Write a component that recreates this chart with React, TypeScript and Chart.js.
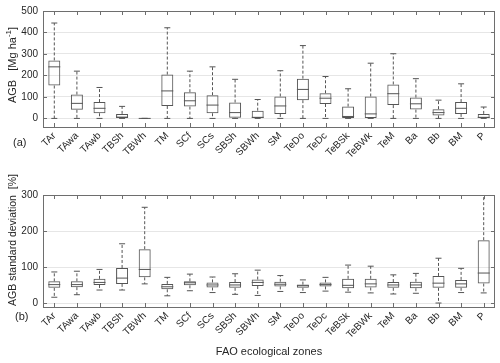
import React, { useEffect, useRef } from "react";
import { Chart, registerables } from "chart.js";
Chart.register(...registerables);

const zones = ["TAr", "TAwa", "TAwb", "TBSh", "TBWh", "TM", "SCf", "SCs", "SBSh", "SBWh", "SM", "TeDo", "TeDc", "TeBSk", "TeBWk", "TeM", "Ba", "Bb", "BM", "P"];

// Panel (a): AGB [Mg ha-1]
const agbMin = [0, 0, 0, 0, 0, 0, 0, 0, 0, 0, 0, 0, 0, 0, 0, 0, 0, 0, 0, 0];
const agbQ1 = [153, 40, 24, 0, 0, 58, 55, 24, 3, 2, 21, 85, 67, 2, 0, 62, 41, 14, 21, 0];
const agbMed = [240, 70, 47, 6, 0, 128, 82, 62, 27, 5, 58, 135, 94, 9, 21, 115, 68, 27, 47, 5];
const agbQ3 = [270, 111, 76, 21, 0, 204, 122, 108, 74, 36, 102, 185, 117, 55, 102, 158, 97, 43, 76, 21];
const agbMax = [444, 220, 144, 56, 0, 422, 220, 240, 182, 88, 222, 339, 195, 138, 257, 301, 185, 85, 161, 53];
const agbTicks = [0, 100, 200, 300, 400, 500];

// Panel (b): AGB standard deviation [%]
const sdMin = [17, 24, 37, 37, 54, 21, 35, 30, 25, 22, 33, 30, 34, 31, 29, 26, 28, 1, 30, 29];
const sdQ1 = [43, 45, 51, 54, 72, 39, 50, 44, 43, 48, 47, 43, 47, 42, 44, 43, 42, 43, 43, 55];
const sdMed = [52, 52, 58, 70, 94, 46, 57, 51, 51, 58, 53, 49, 52, 50, 54, 51, 51, 56, 54, 84];
const sdQ3 = [61, 61, 68, 98, 150, 54, 61, 58, 59, 66, 60, 52, 58, 68, 68, 59, 60, 76, 65, 175];
const sdMax = [87, 89, 94, 165, 266, 72, 81, 73, 82, 92, 77, 65, 72, 106, 103, 79, 83, 125, 97, 330];
const sdTicks = [0, 100, 200, 300];

const FONT = '"Liberation Sans", Arial, Helvetica, sans-serif';
const TEXT = "#262626";
const LINE = "#555555";

type TitlePart = { text: string; sup?: boolean };

type PanelOpts = {
  mins: number[];
  q1: number[];
  med: number[];
  q3: number[];
  maxs: number[];
  yMin: number;
  yMax: number;
  yTicks: number[];
  yTitle: TitlePart[];
  yTitleSize: number;
  yTitleCenter: number;
  xTitle?: string;
  padTop: number;
  xHeight: number;
  tag: string;
  tagX: number;
  tagY: number;
};

function makeConfig(o: PanelOpts): any {
  const boxPlugin = {
    id: "boxExtras",
    afterDatasetsDraw(chart: any) {
      const ctx = chart.ctx;
      const area = chart.chartArea;
      const y = chart.scales.y;
      const meta = chart.getDatasetMeta(0);
      ctx.save();
      ctx.beginPath();
      ctx.rect(area.left, area.top, area.right - area.left, area.bottom - area.top);
      ctx.clip();
      ctx.strokeStyle = LINE;
      ctx.lineWidth = 1;
      meta.data.forEach((bar: any, i: number) => {
        const cx = bar.x;
        const hw = bar.width / 2;
        const cap = 3;
        const pMin = y.getPixelForValue(o.mins[i]);
        const pQ1 = y.getPixelForValue(o.q1[i]);
        const pMed = y.getPixelForValue(o.med[i]);
        const pQ3 = y.getPixelForValue(o.q3[i]);
        const pMax = y.getPixelForValue(o.maxs[i]);
        ctx.setLineDash([]);
        ctx.beginPath();
        ctx.moveTo(cx - hw, pMed);
        ctx.lineTo(cx + hw, pMed);
        ctx.stroke();
        ctx.setLineDash([3, 2]);
        ctx.beginPath();
        ctx.moveTo(cx, pQ3);
        ctx.lineTo(cx, pMax);
        ctx.moveTo(cx, pQ1);
        ctx.lineTo(cx, pMin);
        ctx.stroke();
        ctx.setLineDash([]);
        ctx.beginPath();
        ctx.moveTo(cx - cap, pMax);
        ctx.lineTo(cx + cap, pMax);
        ctx.moveTo(cx - cap, pMin);
        ctx.lineTo(cx + cap, pMin);
        ctx.stroke();
      });
      ctx.restore();

      // frame and inward ticks
      ctx.save();
      ctx.strokeStyle = "#6e6e6e";
      ctx.lineWidth = 1;
      ctx.strokeRect(area.left + 0.5, area.top + 0.5, area.right - area.left - 1, area.bottom - area.top);
      const x = chart.scales.x;
      const tl = 4;
      ctx.beginPath();
      zones.forEach((_, i) => {
        const px = Math.round(x.getPixelForValue(i)) + 0.5;
        ctx.moveTo(px, area.bottom);
        ctx.lineTo(px, area.bottom - tl);
        ctx.moveTo(px, area.top);
        ctx.lineTo(px, area.top + tl);
      });
      o.yTicks.forEach((v) => {
        const py = Math.round(y.getPixelForValue(v)) + 0.5;
        ctx.moveTo(area.left, py);
        ctx.lineTo(area.left + tl, py);
        ctx.moveTo(area.right, py);
        ctx.lineTo(area.right - tl, py);
      });
      ctx.stroke();

      // panel tag
      ctx.fillStyle = TEXT;
      ctx.font = `11px ${FONT}`;
      ctx.textAlign = "left";
      ctx.textBaseline = "middle";
      ctx.fillText(o.tag, o.tagX, o.tagY);

      // rotated y title with optional superscript
      const base = `${o.yTitleSize}px ${FONT}`;
      const supFont = `${Math.round(o.yTitleSize * 0.72)}px ${FONT}`;
      let total = 0;
      const widths = o.yTitle.map((p) => {
        ctx.font = p.sup ? supFont : base;
        const w = ctx.measureText(p.text).width;
        total += w;
        return w;
      });
      ctx.translate(13, o.yTitleCenter);
      ctx.rotate(-Math.PI / 2);
      ctx.textAlign = "left";
      ctx.textBaseline = "middle";
      let cur = -total / 2;
      o.yTitle.forEach((p, i) => {
        ctx.font = p.sup ? supFont : base;
        ctx.fillText(p.text, cur, p.sup ? -o.yTitleSize * 0.38 : 0);
        cur += widths[i];
      });
      ctx.restore();
    },
  };

  return {
    type: "bar",
    data: {
      labels: zones,
      datasets: [
        {
          data: zones.map((_, i) => [o.q1[i], o.q3[i]]),
          backgroundColor: "rgba(255,255,255,0)",
          borderColor: LINE,
          borderWidth: 1,
          borderSkipped: false,
          barPercentage: 0.53,
          categoryPercentage: 1,
        },
      ],
    },
    options: {
      animation: false,
      responsive: true,
      maintainAspectRatio: false,
      layout: { padding: { top: o.padTop, right: 5, left: 0, bottom: 0 } },
      plugins: { legend: { display: false }, tooltip: { enabled: false }, title: { display: false } },
      scales: {
        x: {
          type: "category",
          offset: true,
          grid: { display: false, drawTicks: false },
          border: { display: false },
          ticks: {
            autoSkip: false,
            maxRotation: 45,
            minRotation: 45,
            padding: 3,
            color: TEXT,
            font: { family: FONT, size: 10 },
          },
          title: o.xTitle
            ? { display: true, text: o.xTitle, color: TEXT, font: { family: FONT, size: 11 }, padding: { top: 4, bottom: 4 } }
            : { display: false },
          afterFit: (s: any) => {
            s.height = o.xHeight;
          },
        },
        y: {
          type: "linear",
          min: o.yMin,
          max: o.yMax,
          afterBuildTicks: (s: any) => {
            s.ticks = o.yTicks.map((v) => ({ value: v }));
          },
          grid: { color: "#e6e6e6", drawTicks: false, lineWidth: 1 },
          border: { display: false },
          ticks: { padding: 5, color: TEXT, font: { family: FONT, size: 10 } },
          title: { display: false },
          afterFit: (s: any) => {
            s.width = 43;
          },
        },
      },
    },
    plugins: [boxPlugin],
  };
}

export default function App() {
  const topRef = useRef<HTMLCanvasElement | null>(null);
  const botRef = useRef<HTMLCanvasElement | null>(null);

  useEffect(() => {
    document.body.style.margin = "0";
    const c1 = new Chart(
      topRef.current as HTMLCanvasElement,
      makeConfig({
        mins: agbMin,
        q1: agbQ1,
        med: agbMed,
        q3: agbQ3,
        maxs: agbMax,
        yMin: -40,
        yMax: 500,
        yTicks: agbTicks,
        yTitle: [{ text: "AGB   [Mg ha" }, { text: "-1", sup: true }, { text: "]" }],
        yTitleSize: 11,
        yTitleCenter: 65,
        padTop: 8,
        xHeight: 43,
        tag: "(a)",
        tagX: 13,
        tagY: 143,
      })
    );
    const c2 = new Chart(
      botRef.current as HTMLCanvasElement,
      makeConfig({
        mins: sdMin,
        q1: sdQ1,
        med: sdMed,
        q3: sdQ3,
        maxs: sdMax,
        yMin: -10,
        yMax: 300,
        yTicks: sdTicks,
        yTitle: [{ text: "AGB standard deviation  [%]" }],
        yTitleSize: 10.5,
        yTitleCenter: 70,
        xTitle: "FAO ecological zones",
        padTop: 25,
        xHeight: 56,
        tag: "(b)",
        tagX: 15,
        tagY: 147,
      })
    );
    return () => {
      c1.destroy();
      c2.destroy();
    };
  }, []);

  return (
    <div style={{ position: "relative", width: 500, height: 363, background: "#fff" }}>
      <div style={{ position: "absolute", left: 0, top: 0, width: 500, height: 170 }}>
        <canvas ref={topRef} />
      </div>
      <div style={{ position: "absolute", left: 0, top: 170, width: 500, height: 193 }}>
        <canvas ref={botRef} />
      </div>
    </div>
  );
}
